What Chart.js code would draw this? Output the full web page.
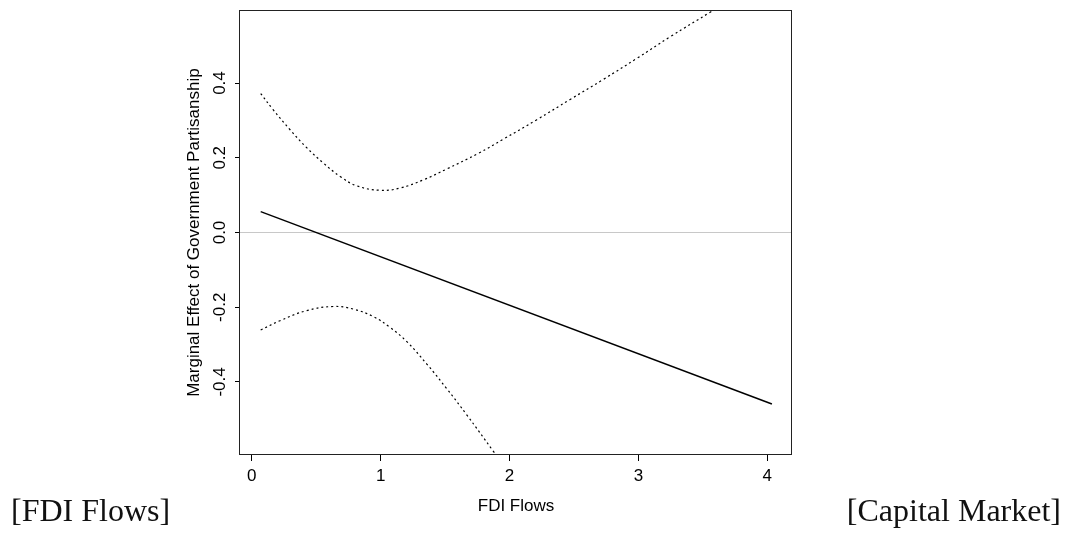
<!DOCTYPE html>
<html>
<head>
<meta charset="utf-8">
<script src="https://cdn.jsdelivr.net/npm/chart.js@4/dist/chart.umd.min.js"></script>
<style>
	html, body { margin: 0; padding: 0; background: #fff; }
	#wrap { position: relative; width: 1073px; height: 533px; }
	#chart { position: absolute; left: 0; top: 0; }
	.caption { position: absolute; font-family: "Liberation Serif", serif; font-size: 32px; line-height: 32px; color: #111; white-space: nowrap; }
</style>
</head>
<body>
<div id="wrap">
	<canvas id="chart" width="1073" height="533"></canvas>
	<div class="caption" style="left: 11px; top: 494px;">[FDI Flows]</div>
	<div class="caption" style="right: 12px; top: 494px;">[Capital Market]</div>
</div>
<script>
// marginal effect estimate (solid line)
const effectX = [0.069, 4.036];
const effectY = [0.056, -0.459];

// upper confidence bound (dotted)
const upperX = [0.069, 0.167, 0.297, 0.426, 0.555, 0.685, 0.814, 0.995, 1.151, 1.332, 1.513, 1.759, 1.953, 2.212, 2.470, 2.729, 2.988, 3.247, 3.563, 3.65];
const upperY = [0.372, 0.328, 0.275, 0.227, 0.186, 0.150, 0.125, 0.113, 0.119, 0.141, 0.170, 0.212, 0.250, 0.302, 0.356, 0.410, 0.466, 0.524, 0.591, 0.611];

// lower confidence bound (dotted)
const lowerX = [0.069, 0.219, 0.426, 0.633, 0.788, 0.943, 1.073, 1.203, 1.358, 1.513, 1.668, 1.875, 1.95];
const lowerY = [-0.261, -0.236, -0.209, -0.198, -0.205, -0.225, -0.254, -0.292, -0.352, -0.418, -0.488, -0.586, -0.623];

const xTicks = [0, 1, 2, 3, 4];
const yTicks = [-0.4, -0.2, 0, 0.2, 0.4];

const xTitle = 'FDI Flows';
const yTitle = 'Marginal Effect of Government Partisanship';

const sans = {family: '"Liberation Sans", Arial, sans-serif', size: 17};

function toPoints(xs, ys) {
	return xs.map(function(x, i) {
		return {x: x, y: ys[i]};
	});
}

//Black box round the plot region, like R's box()
const boxPlugin = {
	id: 'box',
	afterDraw(chart) {
		const a = chart.chartArea;
		const ctx = chart.ctx;
		ctx.save();
		ctx.strokeStyle = '#222';
		ctx.lineWidth = 1;
		ctx.strokeRect(Math.round(a.left) - 0.5, Math.round(a.top) + 0.5, Math.round(a.right - a.left), Math.round(a.bottom - a.top) - 1);
		ctx.restore();
	}
};

new Chart(document.getElementById('chart'), {
	type: 'line',
	data: {
		datasets: [
			{
				data: toPoints(effectX, effectY),
				borderColor: '#000',
				borderWidth: 1.5,
				pointRadius: 0,
				clip: 0
			},
			{
				data: toPoints(upperX, upperY),
				borderColor: '#000',
				borderWidth: 1.2,
				borderDash: [2, 3],
				pointRadius: 0,
				tension: 0.4,
				clip: 0
			},
			{
				data: toPoints(lowerX, lowerY),
				borderColor: '#000',
				borderWidth: 1.2,
				borderDash: [2, 3],
				pointRadius: 0,
				tension: 0.4,
				clip: 0
			}
		]
	},
	options: {
		responsive: false,
		animation: false,
		layout: {
			padding: {left: 0, right: 281, top: 8, bottom: 0}
		},
		plugins: {
			legend: {display: false},
			tooltip: {enabled: false}
		},
		scales: {
			x: {
				type: 'linear',
				min: -0.0916,
				max: 4.192,
				afterBuildTicks: function(scale) {
					scale.ticks = xTicks.map(function(v) { return {value: v}; });
				},
				afterFit: function(scale) {
					scale.height = 78;
				},
				ticks: {
					font: sans,
					color: '#000',
					padding: 5,
					maxRotation: 0,
					callback: function(v) { return String(v); }
				},
				grid: {
					drawOnChartArea: false,
					tickLength: 6,
					tickColor: '#000'
				},
				border: {display: false},
				title: {
					display: true,
					text: xTitle,
					font: sans,
					color: '#000',
					padding: {top: 0, bottom: 16}
				}
			},
			y: {
				type: 'linear',
				min: -0.5955,
				max: 0.595,
				afterBuildTicks: function(scale) {
					scale.ticks = yTicks.map(function(v) { return {value: v}; });
				},
				afterFit: function(scale) {
					scale.width = 240;
				},
				ticks: {
					font: sans,
					color: '#000',
					padding: 0,
					minRotation: 90,
					maxRotation: 90,
					crossAlign: 'center',
					callback: function(v) { return v.toFixed(1); }
				},
				grid: {
					drawOnChartArea: true,
					tickLength: 5,
					tickColor: '#000',
					color: function(ctx) {
						return ctx.tick && ctx.tick.value === 0 ? '#c8c8c8' : 'rgba(0,0,0,0)';
					}
				},
				border: {display: false},
				title: {
					display: true,
					text: yTitle,
					font: sans,
					color: '#000',
					padding: {top: 184, bottom: 0}
				}
			}
		}
	},
	plugins: [boxPlugin]
});
</script>
</body>
</html>
